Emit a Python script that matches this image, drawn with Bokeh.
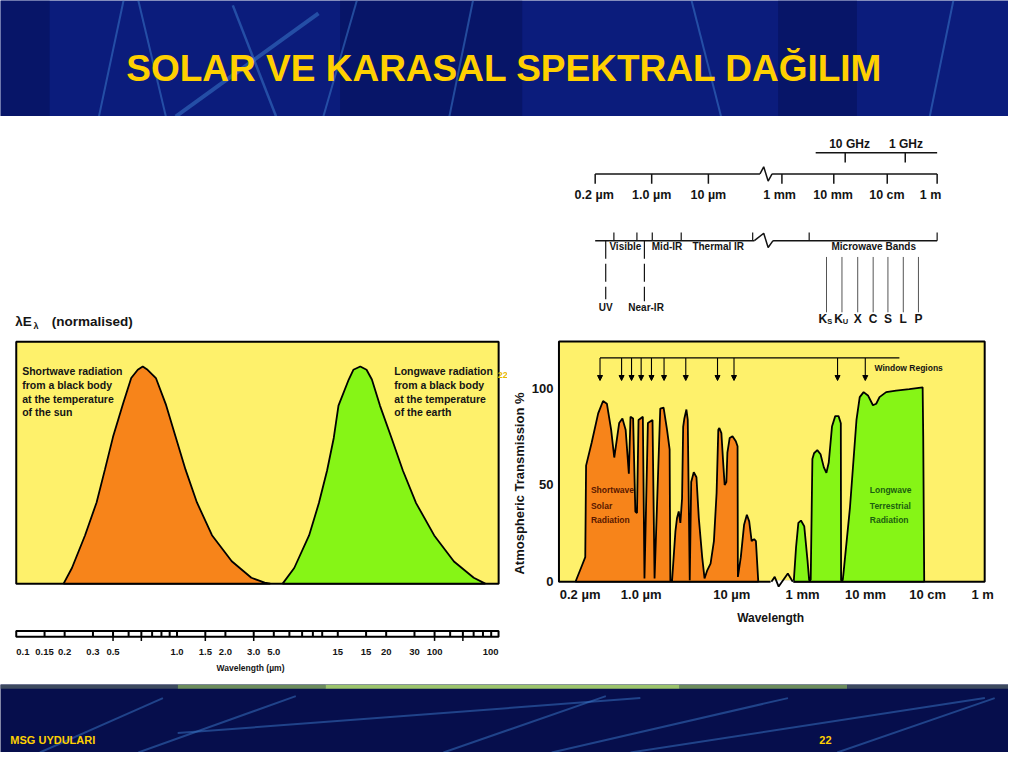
import numpy as np
from bokeh.plotting import figure
from bokeh.layouts import column, row
from bokeh.models import Range1d, FixedTicker, Arrow, NormalHead, ColumnDataSource
from bokeh.core.properties import value
from bokeh.embed import file_html
from bokeh.resources import INLINE

FONT_NAME = "Liberation Sans"
FONT = value(FONT_NAME)

# ---------------------------------------------------------------- data
TITLE = "SOLAR VE KARASAL SPEKTRAL DAĞILIM"
FOOTER_LEFT = "MSG UYDULARI"
PAGE_NO = "22"

# left panel: normalised black-body curves (wavelength in um, lambda*E normalised)
SUN_WL = [0.197, 0.222, 0.268, 0.316, 0.356, 0.400, 0.461, 0.519, 0.570, 0.612, 0.656,
          0.739, 0.851, 0.980, 1.13, 1.33, 1.65, 2.19, 2.90, 3.51, 3.80]
SUN_E = [0.0, 0.072, 0.223, 0.374, 0.525, 0.676, 0.827, 0.947, 0.985, 1.0, 0.985,
         0.947, 0.827, 0.676, 0.525, 0.374, 0.223, 0.103, 0.027, 0.005, 0.0]
EARTH_WL = [4.54, 5.36, 6.63, 7.63, 8.58, 9.44, 10.1, 11.7, 12.5, 13.8, 15.1, 16.3,
            18.3, 21.6, 25.4, 30.7, 39.8, 52.8, 70.1, 82.7]
EARTH_E = [0.0, 0.072, 0.222, 0.371, 0.521, 0.671, 0.820, 0.940, 0.985, 1.0, 0.985, 0.940,
           0.820, 0.671, 0.521, 0.371, 0.222, 0.102, 0.027, 0.0]

# wavelength ruler under the left panel (um)
RULER_MIN, RULER_MAX = 0.1, 100
RULER_CELLS = [0.15, 0.2, 0.3, 0.4, 0.5, 0.6, 0.7, 0.8, 0.9, 1.0, 1.5, 2, 3, 4, 5, 6, 7, 8,
               10, 15, 20, 30, 40, 50, 60, 70, 80, 90]
RULER_LONG = [0.4, 0.6, 1.5, 3, 40, 60]
RULER_LABEL_AT = [0.15, 0.2, 0.3, 0.4, 1.0, 1.5, 2, 3, 4, 10, 15, 20, 30, 40]
RULER_LABELS = ["0.15", "0.2", "0.3", "0.5", "1.0", "1.5", "2.0", "3.0", "5.0",
                "15", "15", "20", "30", "100"]
RULER_FIRST, RULER_LAST = "0.1", "100"

# right panel: atmospheric transmission (%), wavelength in um
SW_WL = [0.177, 0.210, 0.229, 0.234, 0.271, 0.322, 0.366, 0.405, 0.453, 0.492, 0.560, 0.610,
         0.664, 0.723, 0.755, 0.809, 0.858, 0.896, 0.933, 1.044, 1.088, 1.187, 1.335, 1.406,
         1.626, 1.769, 1.930, 2.063, 2.100, 2.19, 2.39, 2.49, 2.60, 2.71, 2.83, 2.91, 3.00,
         3.16, 3.27, 3.44, 3.57, 3.81, 4.08, 4.33, 4.72, 5.01, 5.37, 5.84, 6.36, 6.81, 7.11,
         7.30, 7.69, 8.09, 8.36, 8.73, 8.96, 9.50, 10.2, 11.1, 11.6, 11.7, 12.6, 13.7, 14.7,
         15.6, 16.6, 17.7, 18.5, 19.6, 19.7]
SW_T = [0, 8.4, 12.7, 60, 71.8, 87, 93.4, 92, 78.6, 64.2, 82, 84.4,
        78.6, 55.8, 85.3, 84.4, 36.3, 35.5, 83.6, 85.3, 1.7, 82, 83.6, 1.7,
        89.5, 90, 78.6, 68.4, 0.8, 0, 26, 33, 36.3, 30.4, 43, 80, 84.4,
        89, 83.6, 0.8, 51.5, 56.6, 54, 33, 12.7, 1.7, 5.9, 9.3, 21, 46, 78.6,
        79.4, 76.8, 60, 50, 51.5, 66.7, 74.3, 75.2, 72.6, 70, 2.5, 12.7, 29.5, 34.6,
        31.2, 21, 22, 21, 0.8, 0]
LW_WL = [724, 787, 857, 942, 1062, 1197, 1271, 1346, 1431, 1521, 1711, 1927, 2176, 2388,
         2603, 2929, 3298, 3722, 4045, 4085, 4339, 4453, 5640, 7169, 8072, 9311, 10920,
         13150, 14840, 16760, 21460, 31050, 50700, 83200, 85000, 88200]
LW_T = [0, 17.7, 30.4, 31.6, 28.7, 11, 0.8, 1, 63.4, 66.4, 68, 65.9, 59.1, 56.3,
        61.6, 80.2, 85.6, 85.6, 81.9, 0.8, 0.8, 4.2, 38, 83.6, 95.4, 98, 96.3,
        91.2, 92, 95.4, 98, 98.8, 99.6, 100.5, 75.2, 0]
WINDOW_WL = [0.338, 0.597, 0.776, 1.0, 1.30, 1.79, 3.11, 6.97, 10.6, 3590, 9890]
WINDOW_LINE_END_WL = 35100
TICK_WL = [0.2, 1, 10, 1000, 1e4, 1e5, 1e6]
TICK_LABELS = ["0.2 µm", "1.0 µm", "10 µm", "1 mm", "10 mm", "10 cm", "1 m"]
Y_TICKS = [0, 50, 100]

# top schematic
SCALE_LABELS = ["0.2 µm", "1.0 µm", "10 µm", "1 mm", "10 mm", "10 cm", "1 m"]
GHZ_LABELS = ["10 GHz", "1 GHz"]
BAND_LABELS = ["Visible", "Mid-IR", "Thermal IR", "Microwave Bands"]
MW_BANDS = ["X", "C", "S", "L", "P"]

# ---------------------------------------------------------------- style
YELLOW = "#FEF16B"
ORANGE = "#F7841A"
GREEN = "#86F516"
INK = "#141414"
GOLD = "#FFD000"


def canvas(w, h, xr, yr, bg, x_type="linear", **kw):
    opts = dict(min_border=0)
    opts.update(kw)
    p = figure(width=w, height=h, x_range=Range1d(*xr), y_range=Range1d(*yr),
               x_axis_type=x_type, x_axis_location=None, y_axis_location=None,
               output_backend="svg", toolbar_location=None, tools="", title=None,
               background_fill_color=bg, border_fill_color=bg,
               outline_line_color=None, **opts)
    p.grid.visible = False
    return p


def txt(p, xs, ys, texts, size, color=INK, align="left", baseline="middle", style="bold"):
    p.text(x=list(xs), y=list(ys), text=list(texts), text_font=FONT,
           text_font_size=f"{size}px", text_font_style=style, text_color=color,
           text_align=align, text_baseline=baseline)


# ---------------------------------------------------------------- header
hdr = canvas(1008, 116, (0, 1024), (118, 0), "#0b1c7c")
hdr.quad(left=[0, 345, 790], right=[50, 530, 870], top=[0, 0, 0], bottom=[118, 118, 118],
         fill_color="#061360", fill_alpha=0.7, line_color=None)
hdr.segment(x0=[125, 140, 236, 323, 362, 480, 702, 968],
            y0=[0, 0, 5, 13, 0, 0, 0, 0],
            x1=[100, 168, 280, 178, 328, 456, 732, 944],
            y1=[118] * 8,
            line_color="#3a78c8", line_alpha=0.55,
            line_width=[2, 2, 2.5, 4, 2, 2, 2, 2])
txt(hdr, [512], [69], [TITLE], 37, GOLD, align="center")

# ---------------------------------------------------------------- left panel
def lx(px):
    return 10 ** ((px - 16) / 163.3 - 1)


def ly(py):
    return (595 - py) / 221.7


left = canvas(507, 568, (lx(0), lx(515)), (ly(698), ly(118)), "white", x_type="log")
left.quad(left=[lx(16)], right=[lx(506)], bottom=[0], top=[ly(348)],
          fill_color=YELLOW, line_color="black", line_width=2)
left.patch(SUN_WL, SUN_E, fill_color=ORANGE, line_color="black", line_width=1.8)
left.patch(EARTH_WL, EARTH_E, fill_color=GREEN, line_color="black", line_width=1.8)
txt(left, [lx(22)] * 4, [ly(378), ly(392), ly(406), ly(420)],
    ["Shortwave radiation", "from a black body", "at the temperature", "of the sun"], 10.5)
txt(left, [lx(400)] * 4, [ly(378), ly(392), ly(406), ly(420)],
    ["Longwave radiation", "from a black body", "at the temperature", "of the earth"], 10.5)
txt(left, [lx(15)], [ly(327)], ["λE"], 13.5)
txt(left, [lx(33.5)], [ly(332)], ["λ"], 9)
txt(left, [lx(52)], [ly(327)], ["(normalised)"], 13.5)
txt(left, [lx(505)], [ly(382)], [PAGE_NO], 9, "#E8B800")

# ruler
left.quad(left=[RULER_MIN], right=[RULER_MAX], top=[ly(643.3)], bottom=[ly(649.3)],
          fill_color="white", line_color="black", line_width=2)
left.segment(x0=RULER_CELLS, y0=[ly(643.3)] * len(RULER_CELLS),
             x1=RULER_CELLS, y1=[ly(649.3)] * len(RULER_CELLS),
             line_color="black", line_width=2)
left.segment(x0=RULER_LONG, y0=[ly(649.3)] * len(RULER_LONG),
             x1=RULER_LONG, y1=[ly(653.5)] * len(RULER_LONG),
             line_color="black", line_width=1.5)
txt(left, RULER_LABEL_AT, [ly(664.5)] * len(RULER_LABEL_AT), RULER_LABELS, 9.5, align="center")
txt(left, [RULER_MIN], [ly(664.5)], [RULER_FIRST], 9.5, align="left")
txt(left, [RULER_MAX], [ly(664.5)], [RULER_LAST], 9.5, align="right")
txt(left, [lx(254)], [ly(681)], ["Wavelength (µm)"], 8.5, align="center")

# ---------------------------------------------------------------- right column
# frame of both right-hand figures spans the same horizontal range
RX = (565, 1012)
BORDER_L, BORDER_R = 49, 12

# top schematic (schematic units follow the slide layout)
top = canvas(501, 217, RX, (340, 118), "white",
             min_border_left=BORDER_L, min_border_right=BORDER_R,
             min_border_top=0, min_border_bottom=0)
# GHz scale
top.segment(x0=[828.3, 858.3, 919.3], y0=[155, 155, 155], x1=[951.7, 858.3, 919.3],
            y1=[155, 165, 165], line_color=INK, line_width=1.5)
txt(top, [862.7, 920], [146, 146], GHZ_LABELS, 12, align="center")
# wavelength scale
sx = [604.3, 661.7, 719.3, 794, 846.7, 901, 951.7]
top.segment(x0=[604.3, 784], y0=[176.7, 176.7], x1=[771.7, 951.7], y1=[176.7, 176.7],
            line_color=INK, line_width=1.5)
top.segment(x0=sx, y0=[176.7] * 7, x1=sx, y1=[186.7] * 7, line_color=INK, line_width=1.5)
top.line([771.7, 775.5, 780, 784], [176.7, 169.5, 184, 176.7], line_color=INK, line_width=1.5)
txt(top, [603.3, 661.7, 719.3, 791.7, 846, 900.7, 945], [198.3] * 7, SCALE_LABELS, 12.5,
    align="center")
# band line
bx = [623.3, 646.7, 662.3, 691.7, 764.3, 821.7, 951.7]
top.segment(x0=[604.3, 785], y0=[245, 245], x1=[766, 951.7], y1=[245, 245],
            line_color=INK, line_width=1.5)
top.segment(x0=bx, y0=[245] * 7, x1=bx, y1=[236.7] * 7, line_color=INK, line_width=1.2)
top.line([766, 775.5, 780, 785], [245, 237.5, 252, 245], line_color=INK, line_width=1.5)
txt(top, [635, 677.3, 729.3, 887.3], [251.5] * 4, BAND_LABELS, 10, align="center")
top.segment(x0=[615, 654.3], y0=[245, 245], x1=[615, 654.3], y1=[305, 307],
            line_color=INK, line_width=1.2, line_dash="18 5")
txt(top, [615, 656], [313.3, 313.3], ["UV", "Near-IR"], 10, align="center")
mwx = [839.3, 855, 871, 886.7, 901.7, 917.3, 932.7]
top.segment(x0=mwx, y0=[261.7] * 7, x1=mwx, y1=[318.3] * 7, line_color="#555555", line_width=1)
txt(top, [835.5, 851.5], [325, 325], ["K", "K"], 12, align="center")
txt(top, [842.5, 858.5], [328, 328], ["S", "U"], 7.5, align="center")
txt(top, mwx[2:], [325] * 5, MW_BANDS, 12, align="center")

# ---------------------------------------------------------------- transmission chart
SHORT_LG = np.log10([0.2, 1, 10])
SHORT_PX = [589, 651, 743]
LONG_LG = np.log10([1000, 1e4, 1e5, 1e6])
LONG_PX = [815, 879, 942, 998]


def seg_interp(lg, xs, ys):
    out = np.interp(lg, xs, ys)
    lo, hi = lg < xs[0], lg > xs[-1]
    out[lo] = ys[0] + (lg[lo] - xs[0]) * (ys[1] - ys[0]) / (xs[1] - xs[0])
    out[hi] = ys[-1] + (lg[hi] - xs[-1]) * (ys[-1] - ys[-2]) / (xs[-1] - xs[-2])
    return out


def axis_pos(wl):
    lg = np.log10(np.atleast_1d(np.asarray(wl, dtype=float)))
    return np.where(lg < 2.3, seg_interp(lg, SHORT_LG, SHORT_PX),
                    seg_interp(lg, LONG_LG, LONG_PX))


def cy(py):
    return (593.3 - py) / 1.973


ch = figure(width=501, height=351, x_range=Range1d(*RX), y_range=Range1d(cy(640), 125.2),
            x_axis_location=None, output_backend="svg", toolbar_location=None, tools="",
            title=None, min_border_left=BORDER_L, min_border_right=BORDER_R,
            min_border_top=6, min_border_bottom=57,
            background_fill_color="white", border_fill_color="white", outline_line_color=None)
ch.grid.visible = False
ch.quad(left=[567.5], right=[1000], bottom=[0], top=[124.2], fill_color=YELLOW,
        line_color="black", line_width=2)
ch.patch(axis_pos(SW_WL), SW_T, fill_color=ORANGE, line_color="black", line_width=1.8)
ch.patch(axis_pos(LW_WL), LW_T, fill_color=GREEN, line_color="black", line_width=1.8)
# axis break on the baseline
ch.segment(x0=[782.5], y0=[0], x1=[805.5], y1=[0], line_color="white", line_width=3)
ch.line([783.3, 786.7, 790.7, 800, 805], [0, 2.5, -2.5, 4.2, 0], line_color="black", line_width=1.8)

# window regions
wx = axis_pos(WINDOW_WL)
ch.line([wx[0], axis_pos(WINDOW_LINE_END_WL)[0]], [115.7, 115.7], line_color="black", line_width=1.2)
src = ColumnDataSource(dict(x=wx, y0=[115.7] * len(wx), y1=[104] * len(wx)))
ch.add_layout(Arrow(end=NormalHead(size=5, fill_color="black", line_color="black", line_width=1),
                    source=src, x_start="x", y_start="y0", x_end="x", y_end="y1",
                    line_color="black", line_width=1.1))
txt(ch, [888], [cy(375)], ["Window Regions"], 8.5)
txt(ch, [600] * 3, [cy(500), cy(515.7), cy(530.7)], ["Shortwave", "Solar", "Radiation"],
    8.5, "#5a1800")
txt(ch, [883.3] * 3, [cy(500), cy(515.7), cy(530.7)], ["Longwave", "Terrestrial", "Radiation"],
    8.5, "#1b5e10")

# x axis: wavelength labels at the broken-log positions
tick_pos = axis_pos(TICK_WL)
txt(ch, tick_pos, [cy(606.7)] * len(TICK_LABELS), TICK_LABELS, 13, align="center")
txt(ch, [782.5], [cy(630)], ["Wavelength"], 12, align="center")

# y axis
ax = ch.yaxis[0]
ax.ticker = FixedTicker(ticks=Y_TICKS)
ax.axis_line_color = None
ax.major_tick_line_color = None
ax.minor_tick_line_color = None
ax.major_tick_out = 0
ax.major_tick_in = 0
ax.minor_tick_out = 0
ax.major_label_text_font = FONT_NAME
ax.major_label_text_font_style = "bold"
ax.major_label_text_font_size = "13px"
ax.major_label_text_color = INK
ax.major_label_standoff = 3
ax.axis_label = "Atmospheric Transmission %"
ax.axis_label_text_font = FONT_NAME
ax.axis_label_text_font_style = "bold"
ax.axis_label_text_font_size = "13px"
ax.axis_label_text_color = INK
ax.axis_label_standoff = 2

# ---------------------------------------------------------------- footer
ft = canvas(1008, 68, (0, 1024), (768, 698), "#060e4c")
ft.quad(left=[0, 180, 330, 690, 860], right=[180, 330, 690, 860, 1024],
        top=[698] * 5, bottom=[702.5] * 5,
        fill_color=["#3d4a5e", "#6c8c5c", "#9cc46c", "#6c8c5c", "#3d4a5e"], line_color=None)
ft.segment(x0=[40, 140, 180, 450, 560, 640, 850],
           y0=[768, 768, 748, 768, 768, 768, 768],
           x1=[165, 300, 650, 615, 800, 1000, 1010],
           y1=[712, 710, 712, 710, 712, 712, 712],
           line_color="#3a78c8", line_alpha=0.5, line_width=2)
txt(ft, [10], [755], [FOOTER_LEFT], 11, GOLD)
txt(ft, [838], [755], [PAGE_NO], 11, GOLD, align="center")

layout = column(hdr, row(left, column(top, ch)), ft)
with open("out.html", "w", encoding="utf-8") as f:
    f.write(file_html(layout, INLINE))
